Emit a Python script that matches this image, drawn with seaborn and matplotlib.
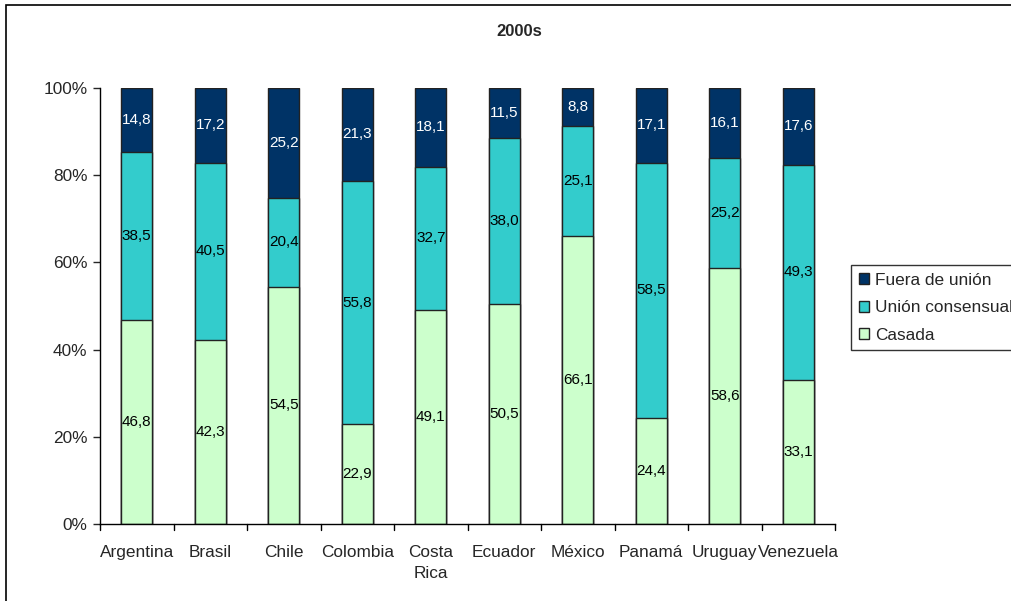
import matplotlib
matplotlib.use("Agg")
import matplotlib.pyplot as plt
import seaborn as sns
import pandas as pd
import numpy as np
from matplotlib.patches import Rectangle, Patch

countries = ["Argentina", "Brasil", "Chile", "Colombia", "Costa\nRica",
             "Ecuador", "México", "Panamá", "Uruguay", "Venezuela"]
casada = [46.8, 42.3, 54.5, 22.9, 49.1, 50.5, 66.1, 24.4, 58.6, 33.1]
union = [38.5, 40.5, 20.4, 55.8, 32.7, 38.0, 25.1, 58.5, 25.2, 49.3]
fuera = [14.8, 17.2, 25.2, 21.3, 18.1, 11.5, 8.8, 17.1, 16.1, 17.6]
series_names = ["Fuera de unión", "Unión consensual", "Casada"]
colors = {"Fuera de unión": "#003366", "Unión consensual": "#33CCCC", "Casada": "#CCFFCC"}

sns.set_style("white")
plt.rcParams["font.family"] = ["Liberation Sans", "DejaVu Sans"]

c = np.array(casada); u = np.array(union); f = np.array(fuera)
tot = c + u + f
c_n = c / tot * 100
cu_n = (c + u) / tot * 100
all_n = tot / tot * 100

df = pd.DataFrame({"pais": countries, "casada": c_n, "cu": cu_n, "all": all_n})

fig = plt.figure(figsize=(10.11, 6.01), dpi=100)
ax = fig.add_axes([100/1011, 1-524/601, 735/1011, 436/601])

for col, name in [("all", "Fuera de unión"), ("cu", "Unión consensual"), ("casada", "Casada")]:
    sns.barplot(data=df, x="pais", y=col, color=colors[name], width=0.42,
                edgecolor="#222222", linewidth=1.0, saturation=1, ax=ax)

LBL = 11
for i in range(len(countries)):
    ax.text(i, c_n[i]/2, f"{casada[i]:.1f}".replace(".", ","), ha="center", va="center",
            fontsize=LBL, color="black")
    ax.text(i, c_n[i] + (cu_n[i]-c_n[i])/2, f"{union[i]:.1f}".replace(".", ","), ha="center",
            va="center", fontsize=LBL, color="black")
    ax.text(i, cu_n[i] + (100-cu_n[i])/2, f"{fuera[i]:.1f}".replace(".", ","), ha="center",
            va="center", fontsize=LBL, color="white")

FS = 12.4
ax.set_ylim(0, 100)
ax.set_xlim(-0.5, len(countries)-0.5)
ax.set_yticks([0, 20, 40, 60, 80, 100])
ax.set_yticklabels(["0%", "20%", "40%", "60%", "80%", "100%"], fontsize=FS)
ax.set_xticks(range(len(countries)))
ax.set_xticklabels(countries, fontsize=FS, linespacing=1.55)
ax.tick_params(axis="x", length=0, pad=15)
ax.tick_params(axis="y", length=5, width=1, direction="out", left=True, pad=4)
for xb in np.arange(-0.5, len(countries), 1.0):
    ax.plot([xb, xb], [0, -1.3], color="black", lw=1, clip_on=False)
ax.set_xlabel("")
ax.set_ylabel("")
for s in ["top", "right"]:
    ax.spines[s].set_visible(False)
for s in ["left", "bottom"]:
    ax.spines[s].set_color("black")
    ax.spines[s].set_linewidth(1)

fig.text(519/1011, 1-31/601, "2000s", ha="center", va="center", fontsize=12, fontweight="bold")

handles = [Patch(facecolor=colors[n], edgecolor="#222222", linewidth=1) for n in series_names]
leg = fig.legend(handles, series_names, loc="upper left", bbox_to_anchor=(851/1011, 1-265/601),
                 fontsize=FS, frameon=True, fancybox=False, edgecolor="black",
                 handlelength=0.6, handleheight=0.6, handletextpad=0.35, borderpad=0.45,
                 labelspacing=0.72, borderaxespad=0)
leg.get_frame().set_linewidth(1)

fig.add_artist(Rectangle((6/1011, -0.1), 1.2, 1.1 - 5/601, transform=fig.transFigure,
                         fill=False, edgecolor="black", linewidth=1.2))

fig.savefig("out.png", dpi=100)
